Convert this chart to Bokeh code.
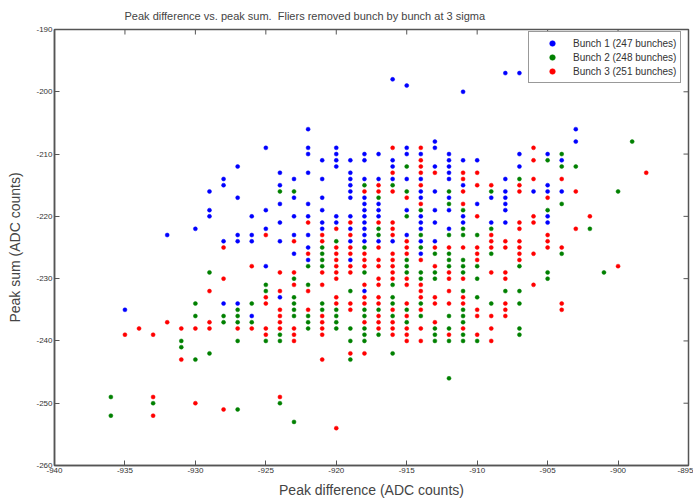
import math
from bokeh.plotting import figure
from bokeh.models import Range1d, FixedTicker, Legend, LegendItem
from bokeh.embed import file_html
from bokeh.resources import INLINE

title_text = "Peak difference vs. peak sum.\u00a0 Fliers removed bunch by bunch at 3 sigma"
x_label = "Peak difference (ADC counts)"
y_label = "Peak sum (ADC counts)"
x_lim = (-940, -895)
y_lim = (-260, -190)
x_ticks = [-940, -935, -930, -925, -920, -915, -910, -905, -900, -895]
y_ticks = [-260, -250, -240, -230, -220, -210, -200, -190]
legend_labels = ["Bunch 1 (247 bunches)", "Bunch 2 (248 bunches)", "Bunch 3 (251 bunches)"]

bunch1 = [
    (-925, -209), (-927, -212), (-928, -214), (-928, -215), (-929, -216), (-927, -217), (-929, -219),
    (-929, -220), (-925, -219), (-926, -220), (-930, -222), (-932, -223), (-925, -222), (-927, -223),
    (-926, -223), (-928, -224), (-927, -224), (-926, -224),
    (-925, -228), (-928, -234), (-927, -234), (-935, -235), (-926, -236),
    (-916, -198), (-915, -199), (-911, -200), (-922, -206), (-913, -208),
    (-922, -209), (-920, -209), (-915, -209), (-913, -209),
    (-922, -210), (-920, -210), (-918, -210), (-917, -210), (-915, -210), (-914, -210), (-912, -210),
    (-921, -211), (-920, -211), (-919, -211), (-918, -211), (-916, -211), (-912, -211), (-911, -211), (-910, -211),
    (-920, -212), (-916, -212), (-913, -212), (-912, -212),
    (-924, -213), (-922, -213), (-919, -213), (-912, -213),
    (-923, -214), (-921, -214), (-919, -214), (-918, -214), (-917, -214), (-916, -214), (-915, -214), (-914, -214), (-912, -214),
    (-924, -215), (-919, -215), (-911, -215),
    (-919, -216), (-914, -216), (-913, -216),
    (-923, -217), (-921, -217), (-919, -217), (-918, -217), (-914, -217), (-912, -217),
    (-924, -218), (-922, -218), (-918, -218), (-917, -218), (-910, -218),
    (-921, -219), (-918, -219), (-917, -219), (-915, -219), (-913, -219), (-912, -219),
    (-923, -220), (-922, -220), (-920, -220), (-919, -220), (-918, -220), (-917, -220), (-914, -220), (-911, -220),
    (-924, -221), (-921, -221), (-920, -221), (-918, -221), (-914, -221), (-913, -221), (-911, -221),
    (-921, -222), (-919, -222), (-918, -222), (-914, -222), (-912, -222),
    (-923, -223), (-922, -223), (-918, -223), (-915, -223),
    (-924, -224), (-919, -224), (-918, -224), (-917, -224), (-916, -224), (-914, -224), (-913, -224),
    (-922, -225),
    (-923, -226), (-914, -226), (-922, -227), (-919, -227), (-918, -232), (-924, -233),
    (-908, -197), (-907, -197), (-903, -206), (-903, -208),
    (-907, -210), (-905, -210), (-904, -211), (-907, -212), (-908, -214), (-905, -215),
    (-908, -216), (-906, -216), (-905, -216), (-904, -216),
    (-909, -217), (-908, -217), (-908, -218), (-908, -219), (-905, -220),
    (-909, -221), (-908, -221), (-905, -221),
]

bunch2 = [
    (-929, -229), (-925, -231), (-925, -232), (-930, -234), (-926, -234), (-927, -235), (-930, -236),
    (-928, -236), (-927, -236), (-928, -237), (-927, -237), (-926, -237), (-931, -240), (-927, -240),
    (-925, -240), (-931, -241), (-929, -242), (-930, -243), (-936, -249), (-933, -250), (-936, -252), (-927, -251),
    (-915, -212), (-918, -215), (-916, -215), (-924, -216), (-923, -216), (-915, -216), (-912, -216),
    (-917, -217), (-912, -218), (-914, -219), (-911, -219), (-915, -220), (-917, -222), (-911, -222),
    (-917, -223), (-914, -223), (-912, -223), (-911, -223), (-910, -223), (-920, -224),
    (-921, -225), (-918, -225), (-914, -225),
    (-921, -226), (-913, -226), (-912, -226),
    (-921, -227), (-915, -227), (-912, -227), (-911, -227),
    (-922, -228), (-921, -228), (-915, -228), (-912, -228), (-911, -228), (-910, -228),
    (-918, -229), (-915, -229), (-914, -229), (-913, -229), (-911, -229),
    (-923, -230), (-914, -230), (-913, -230), (-910, -230),
    (-922, -231), (-916, -231),
    (-919, -232), (-911, -232),
    (-923, -233), (-916, -233), (-910, -233),
    (-923, -234), (-921, -234), (-916, -234), (-914, -234),
    (-923, -235), (-921, -235), (-920, -235), (-918, -235), (-917, -235), (-915, -235), (-911, -235),
    (-923, -236), (-922, -236), (-920, -236), (-918, -236), (-916, -236), (-914, -236), (-912, -236), (-911, -236),
    (-922, -237), (-920, -237), (-915, -237), (-911, -237),
    (-922, -238), (-920, -238), (-919, -238), (-918, -238), (-913, -238), (-912, -238),
    (-924, -239), (-918, -239), (-917, -239), (-913, -239), (-911, -239),
    (-924, -240), (-919, -240), (-918, -240), (-913, -240), (-912, -240), (-911, -240), (-910, -240),
    (-916, -242), (-919, -243), (-912, -246), (-924, -250), (-923, -253),
    (-899, -208), (-904, -210), (-905, -211), (-904, -212), (-903, -212), (-907, -214), (-909, -216),
    (-900, -216), (-904, -218), (-905, -219), (-909, -222), (-902, -222),
    (-909, -226), (-904, -226), (-907, -228), (-905, -229), (-901, -229), (-905, -230), (-908, -232),
    (-907, -232), (-909, -234), (-907, -234), (-907, -238), (-907, -239),
]

bunch3 = [
    (-928, -225), (-926, -228), (-928, -230), (-925, -233), (-925, -234), (-929, -232), (-932, -237),
    (-929, -237), (-934, -238), (-931, -238), (-930, -238), (-929, -238), (-927, -238), (-926, -238),
    (-925, -238), (-935, -239), (-933, -239), (-925, -239), (-931, -243), (-933, -249), (-930, -250),
    (-933, -252), (-928, -251),
    (-916, -209), (-914, -209), (-914, -211), (-914, -212), (-916, -213), (-914, -213), (-913, -213),
    (-911, -213), (-910, -213), (-911, -214), (-917, -215), (-914, -215), (-910, -215), (-918, -216),
    (-917, -216), (-916, -216), (-911, -216), (-915, -217), (-914, -218), (-911, -218), (-910, -220),
    (-922, -221), (-919, -221), (-917, -221), (-916, -221), (-920, -222), (-916, -222), (-925, -223),
    (-921, -223), (-919, -223), (-916, -223), (-923, -224), (-921, -224), (-915, -224),
    (-920, -225), (-919, -225), (-917, -225), (-915, -225), (-913, -225), (-912, -225), (-911, -225), (-910, -225),
    (-922, -226), (-920, -226), (-919, -226), (-918, -226), (-916, -226), (-915, -226), (-910, -226),
    (-920, -227), (-918, -227), (-917, -227), (-916, -227), (-914, -227), (-910, -227),
    (-920, -228), (-919, -228), (-918, -228), (-917, -228), (-916, -228), (-913, -228),
    (-924, -229), (-923, -229), (-921, -229), (-920, -229), (-919, -229), (-916, -229), (-912, -229),
    (-920, -230), (-917, -230), (-916, -230), (-915, -230), (-912, -230), (-911, -230),
    (-923, -231), (-921, -231), (-918, -231), (-917, -231), (-915, -231), (-914, -231),
    (-924, -232), (-922, -232), (-914, -232), (-912, -232),
    (-920, -233), (-918, -233), (-917, -233), (-914, -233), (-913, -233), (-911, -233),
    (-920, -234), (-919, -234), (-918, -234), (-917, -234), (-915, -234), (-913, -234), (-912, -234), (-911, -234),
    (-924, -235), (-922, -235), (-919, -235), (-916, -235), (-914, -235), (-910, -235),
    (-924, -236), (-921, -236), (-917, -236), (-915, -236), (-910, -236),
    (-924, -237), (-921, -237), (-918, -237), (-917, -237), (-916, -237), (-913, -237),
    (-924, -238), (-923, -238), (-921, -238), (-917, -238), (-916, -238), (-915, -238), (-914, -238), (-911, -238),
    (-923, -239), (-921, -239), (-916, -239), (-915, -239), (-912, -239), (-910, -239),
    (-923, -240), (-915, -240), (-914, -240),
    (-919, -242), (-918, -242), (-921, -243), (-924, -249), (-920, -254),
    (-906, -209), (-906, -211), (-898, -213), (-906, -214), (-904, -214), (-909, -215), (-907, -215),
    (-907, -216), (-903, -216), (-905, -217), (-906, -220), (-902, -220), (-907, -221), (-906, -221),
    (-907, -222), (-903, -222), (-909, -223), (-905, -223), (-909, -224), (-908, -224), (-907, -224),
    (-905, -224), (-909, -225), (-908, -225), (-907, -225), (-905, -225), (-904, -225),
    (-907, -226), (-906, -226), (-907, -227), (-900, -228), (-909, -229), (-908, -229), (-908, -230),
    (-906, -231), (-908, -234), (-904, -234), (-908, -235), (-904, -235), (-909, -236), (-908, -236),
    (-909, -238), (-909, -240),
]

colors = ["#0000FF", "#008000", "#FF0000"]
FONT = "Liberation Sans"
AXC = "#555555"

p = figure(width=693, height=501, output_backend="svg", toolbar_location=None,
           x_range=Range1d(*x_lim), y_range=Range1d(*y_lim),
           min_border_left=54, min_border_right=5, min_border_top=0, min_border_bottom=36,
           x_axis_label=x_label, y_axis_label=y_label)

p.title.text = title_text
p.title.text_font = FONT
p.title.text_font_size = "11px"
p.title.text_font_style = "normal"
p.title.align = "left"
p.title.offset = 70
p.title.standoff = 15

p.grid.visible = False
p.outline_line_color = AXC
p.outline_line_width = 1.5
p.background_fill_color = "white"
p.border_fill_color = "white"

for ax, ticks in ((p.xaxis[0], x_ticks), (p.yaxis[0], y_ticks)):
    ax.ticker = FixedTicker(ticks=ticks)
    ax.major_label_overrides = {t: str(t) for t in ticks}
    ax.major_tick_in = 5
    ax.major_tick_out = 0
    ax.minor_tick_in = 0
    ax.minor_tick_out = 0
    ax.major_tick_line_color = AXC
    ax.major_label_text_font = FONT
    ax.major_label_text_font_size = "8px"
    ax.major_label_text_color = "#333333"
    ax.major_label_standoff = 2
    ax.axis_label_text_font = FONT
    ax.axis_label_text_font_size = "14px"
    ax.axis_label_text_font_style = "normal"
    ax.axis_line_color = AXC
    ax.axis_line_width = 1.5
p.xaxis[0].axis_label_standoff = 6
p.yaxis[0].axis_label_standoff = 10

# inward ticks on the top and right edges of the box
p.ray(x=x_ticks, y=[y_lim[1]] * len(x_ticks), length=5, length_units="screen",
      angle=-math.pi / 2, line_color=AXC, line_width=1)
p.ray(x=[x_lim[1]] * len(y_ticks), y=y_ticks, length=5, length_units="screen",
      angle=math.pi, line_color=AXC, line_width=1)

renderers = []
for pts, c in zip((bunch1, bunch2, bunch3), colors):
    xs = [q[0] for q in pts]
    ys = [q[1] for q in pts]
    r = p.scatter(xs, ys, marker="circle", size=4, fill_color=c, line_color=c, line_width=0.5)
    renderers.append(r)

legend = Legend(items=[LegendItem(label=l, renderers=[r]) for l, r in zip(legend_labels, renderers)],
                location=(474, 382), margin=0, padding=4, spacing=0,
                glyph_width=38, glyph_height=14, label_height=14, label_standoff=2,
                label_text_font=FONT, label_text_font_size="10px", label_text_color="#333333",
                border_line_color="#333333", border_line_width=1, background_fill_color="white",
                background_fill_alpha=1.0)
p.add_layout(legend)

open("out.html", "w").write(file_html(p, INLINE))
